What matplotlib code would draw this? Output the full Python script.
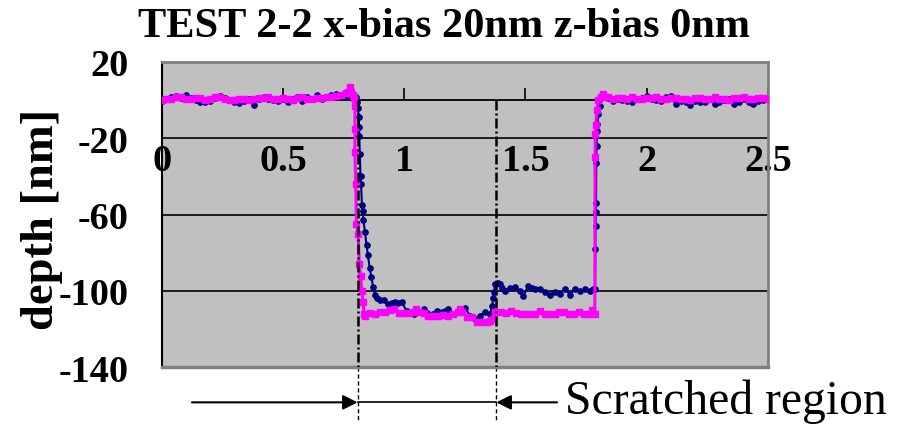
import matplotlib as mpl
mpl.use('Agg')
from matplotlib import pyplot as plt

# depth profile across the scratch, x in um, depth in nm
navy_x = [0.00, 0.02, 0.04, 0.06, 0.08, 0.10, 0.12, 0.14, 0.16, 0.18,
          0.20, 0.22, 0.24, 0.26, 0.28, 0.30, 0.32, 0.34, 0.36, 0.38,
          0.40, 0.42, 0.44, 0.46, 0.48, 0.50, 0.52, 0.54, 0.56, 0.58,
          0.60, 0.62, 0.64, 0.66, 0.68, 0.70, 0.72, 0.74, 0.76, 0.78,
          0.800, 0.805, 0.810, 0.812, 0.814, 0.815, 0.817, 0.820, 0.822, 0.826,
          0.829, 0.832, 0.838, 0.845, 0.850, 0.858, 0.865, 0.872, 0.880, 0.888,
          0.900, 0.915, 0.935, 0.950, 0.962, 0.975, 0.990, 1.010, 1.025, 1.040,
          1.058, 1.080, 1.095, 1.106, 1.120, 1.134, 1.155, 1.170, 1.182, 1.202,
          1.223, 1.240, 1.251, 1.271, 1.292, 1.313, 1.333, 1.354, 1.362, 1.368,
          1.371, 1.375, 1.385, 1.395, 1.405, 1.416, 1.436, 1.457, 1.478, 1.491,
          1.512, 1.525, 1.539, 1.560, 1.581, 1.601, 1.622, 1.643, 1.663, 1.684,
          1.704, 1.725, 1.745, 1.766, 1.780, 1.787, 1.788, 1.789, 1.790, 1.791,
          1.792, 1.793, 1.795, 1.797, 1.800, 1.807, 1.820,
          1.84, 1.86, 1.88, 1.90, 1.92, 1.94, 1.96, 1.98, 2.00, 2.02,
          2.04, 2.06, 2.08, 2.10, 2.12, 2.14, 2.16, 2.18, 2.20, 2.22,
          2.24, 2.26, 2.28, 2.30, 2.32, 2.34, 2.36, 2.38, 2.40, 2.42,
          2.44, 2.46, 2.48, 2.50]
navy_y = [-0.3, 0.5, 1.5, 2.2, 1.0, 2.5, 1.2, 0.0, -0.8, -1.2,
          -0.5, 1.0, 2.0, 1.2, 0.0, -1.0, -1.3, -0.3, 0.5, -2.6,
          0.5, 1.4, 0.5, 0.0, -0.3, 0.5, -1.2, 0.5, 1.4, -0.3,
          1.4, 0.5, 2.5, 0.5, 1.4, 2.5, 3.0, 2.2, 2.0, 2.3,
          1.5, -1, -4, -9, -14, -19, -28, -40, -44, -55,
          -58, -63, -69, -76, -81, -88, -93, -98, -102, -104,
          -105, -105, -107, -106.5, -106, -106.5, -106, -110.5, -111.5, -112,
          -111, -109.5, -111.5, -113, -112, -110.5, -111, -110.5, -109.5, -112,
          -110.5, -110, -108.8, -113, -115, -113, -111, -112, -108, -104,
          -100.5, -96.5, -96, -96.5, -98.5, -100, -98.5, -98, -100, -102.7,
          -97.5, -98.5, -99, -99, -100.5, -102, -100.5, -101.5, -99, -102,
          -99, -100, -99, -100, -99, -99, -78, -66, -58.6, -54,
          -33, -24, -16, -12.6, -7.3, -3, 1.4,
          1.0, -0.3, 0.5, 0.0, -0.3, -1.0, 0.5, 1.0, 2.0, 0.8,
          0.0, -0.3, 1.4, 2.2, -2.0, -0.3, -1.0, -2.5, -0.3, -0.8,
          -1.0, 0.5, -2.0, -1.0, 0.0, 0.5, -2.0, -1.2, 0.5, -1.2,
          -2.0, -0.5, 0.3, 0.5]

magenta_x = [0.00, 0.02, 0.04, 0.06, 0.08, 0.10, 0.12, 0.14, 0.16, 0.18,
             0.20, 0.22, 0.24, 0.26, 0.28, 0.30, 0.32, 0.34, 0.36, 0.38,
             0.40, 0.42, 0.44, 0.46, 0.48, 0.50, 0.52, 0.54, 0.56, 0.58,
             0.60, 0.62, 0.64, 0.66, 0.68, 0.70, 0.72, 0.74, 0.76,
             0.770, 0.776, 0.782, 0.788, 0.793, 0.797, 0.797, 0.797, 0.800, 0.803,
             0.810, 0.815, 0.820, 0.825, 0.830, 0.835, 0.840, 0.86, 0.88, 0.90,
             0.92, 0.94, 0.96, 0.98, 1.00, 1.02, 1.04, 1.05, 1.06, 1.08,
             1.10, 1.12, 1.14, 1.16, 1.18, 1.20, 1.22, 1.23, 1.24, 1.26,
             1.28, 1.30, 1.32, 1.34, 1.355, 1.365, 1.375, 1.40, 1.42, 1.44,
             1.46, 1.48, 1.50, 1.52, 1.54, 1.56, 1.58, 1.60, 1.62, 1.64,
             1.66, 1.68, 1.70, 1.72, 1.74, 1.76, 1.775, 1.786, 1.787, 1.788,
             1.790, 1.795, 1.800, 1.810, 1.820, 1.830,
             1.84, 1.86, 1.88, 1.90, 1.92, 1.94, 1.96, 1.98, 2.00, 2.02,
             2.04, 2.06, 2.08, 2.10, 2.12, 2.14, 2.16, 2.18, 2.20, 2.22,
             2.24, 2.26, 2.28, 2.30, 2.32, 2.34, 2.36, 2.38, 2.40, 2.42,
             2.44, 2.46, 2.48, 2.50]
magenta_y = [0.0, 0.5, 0.5, 1.5, 1.5, 0.5, 0.5, 1.0, 1.0, 0.0,
             0.5, 1.5, 1.5, 0.5, 0.0, 0.0, 0.5, 0.5, 0.0, 0.5,
             1.0, 1.0, 1.5, 0.5, 0.5, 1.0, 0.5, 0.0, 1.0, 1.5,
             0.5, 0.5, 1.0, 1.0, 1.5, 1.5, 2.0, 2.5, 3.5,
             4.5, 7.0, 4.0, 2.5, 1.0, -3, -15, -27, -44, -65,
             -70, -86, -92, -100, -106, -112, -113, -111.5, -112, -111,
             -111, -110, -109.5, -111.5, -111.5, -111.5, -111, -109.5, -111, -111.5,
             -113, -113, -113, -112.5, -113, -112, -111, -109.5, -111, -114,
             -114, -116.5, -116.5, -116.5, -116, -115, -111, -111, -111.5, -110.7,
             -111.5, -112, -112, -112, -112, -110.7, -112, -112, -112, -111,
             -111, -112, -112, -111, -112, -112, -110, -112, -30, -18,
             -12.8, -5, 0, 1.5, 3.0, 1.5,
             1.5, 0.5, 1.0, 1.0, 0.5, 1.5, 0.5, 0.5, 1.0, 1.0,
             1.5, 0.5, 0.5, 1.0, 1.0, 0.5, 0.5, 0.0, 1.0, 1.0,
             0.5, 0.5, 1.5, 0.5, 0.5, 0.0, 1.0, 1.0, 1.5, 0.5,
             0.5, 1.0, 1.0, 0.5]

scratch_start = 0.808
scratch_end = 1.38

x_ticks = [0, 0.5, 1, 1.5, 2, 2.5]
x_labels = ['0', '0.5', '1', '1.5', '2', '2.5']
y_ticks = [20, -20, -60, -100, -140]
y_labels = ['20', '-20', '-60', '-100', '-140']

mpl.rcParams['font.family'] = 'serif'
mpl.rcParams['font.serif'] = ['Liberation Serif', 'DejaVu Serif']
mpl.rcParams['font.weight'] = 'bold'

fig = plt.figure(figsize=(9.03, 4.27), dpi=100)
ax = fig.add_axes([0.179, 0.138, 0.6715, 0.7145])
ax.set_facecolor('#C0C0C0')

ax.plot(navy_x, navy_y, color='#000080', lw=1.5, marker='o', ms=3.8, zorder=3)
ax.plot(magenta_x, magenta_y, color='#FF00FF', lw=2.2, marker='s', ms=3.8,
        zorder=4)

# scratch boundaries
arrow_y = -158.5
for xv in (scratch_start, scratch_end):
    ax.plot([xv, xv], [0, -140], color='black', lw=1.8,
            dashes=(4, 1.2, 0.8, 1.2), zorder=5)
    ax.plot([xv, xv], [-140, -168], color='black', lw=1.0,
            dashes=(3, 2), clip_on=False)

ax.annotate('', xy=(scratch_start, arrow_y), xytext=(0.125, arrow_y),
            arrowprops=dict(arrowstyle='-|>', color='black', lw=1.5,
                            mutation_scale=22, shrinkA=0, shrinkB=0),
            annotation_clip=False)
ax.annotate('', xy=(scratch_end, arrow_y), xytext=(1.63, arrow_y),
            arrowprops=dict(arrowstyle='-|>', color='black', lw=1.5,
                            mutation_scale=22, shrinkA=0, shrinkB=0),
            annotation_clip=False)
ax.plot([scratch_start, scratch_end], [arrow_y, arrow_y], color='black',
        lw=1.2, clip_on=False)
ax.text(1.663, arrow_y + 0.8, 'Scratched region', fontsize=34.3,
        weight='normal', ha='left', va='center', clip_on=False)

ax.set_xlim(0, 2.5)
ax.set_ylim(-140, 20)
ax.set_xticks(x_ticks, x_labels)
ax.set_yticks(y_ticks, y_labels)
ax.yaxis.grid(True, color='black', lw=1.2)
ax.set_axisbelow(True)

ax.spines['bottom'].set_position(('data', 0))
ax.spines['bottom'].set_color('black')
ax.spines['bottom'].set_linewidth(1.3)
ax.spines['left'].set_color('black')
ax.spines['left'].set_linewidth(1.5)
for side in ('top', 'right'):
    ax.spines[side].set_color('#808080')
    ax.spines[side].set_linewidth(2)
ax.axhline(-140, color='#808080', lw=2.5, clip_on=False, zorder=2.6)

ax.tick_params(axis='x', direction='in', length=8.5, width=1.2, pad=31,
               labelsize=27.5)
ax.tick_params(axis='y', length=0, pad=23.5, labelsize=27.5)

fig.text(0.492, 0.936, 'TEST 2-2 x-bias 20nm z-bias 0nm', ha='center',
         va='center', fontsize=30.5, weight='bold')
fig.text(0.0465, 0.487, 'depth [nm]', rotation=90, ha='center', va='center',
         fontsize=33.5, weight='bold')

fig.savefig('out.png', dpi=100)
